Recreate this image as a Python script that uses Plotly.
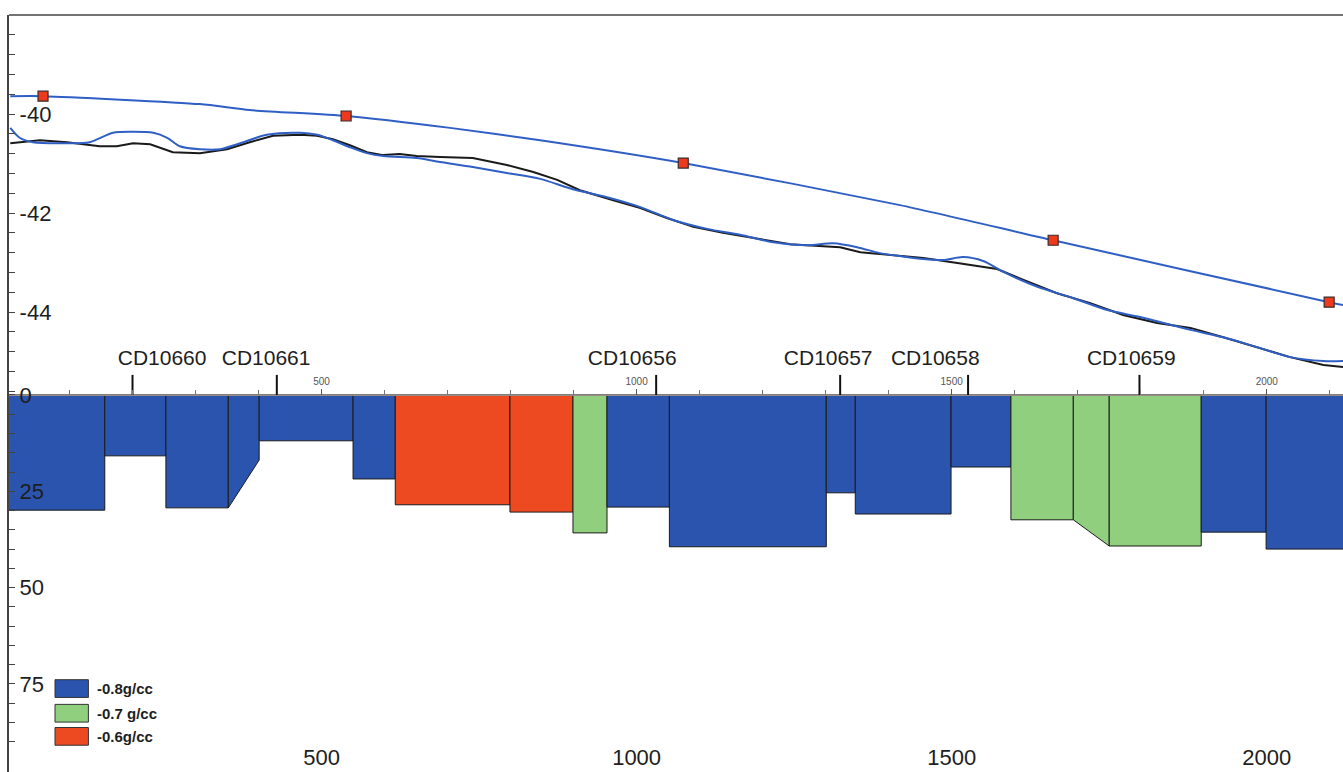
import numpy as np
import plotly.graph_objects as go

# ---------------- DATA ----------------
# observed topography (black, rugged)
obs_x = [6, 53, 96, 148, 175, 201, 228, 264, 307, 350, 386, 423, 466, 493, 518, 545, 572, 598,
         624, 651, 688, 740, 794, 836, 874, 910, 963, 1006, 1048, 1090, 1137, 1191, 1244, 1296,
         1323, 1355, 1402, 1455, 1509, 1572, 1614, 1667, 1720, 1772, 1826, 1879, 1931, 1985,
         2037, 2090, 2121]
obs_elev = [-40.59, -40.53, -40.57, -40.65, -40.65, -40.59, -40.61, -40.77, -40.79, -40.71,
            -40.57, -40.44, -40.42, -40.44, -40.51, -40.63, -40.77, -40.83, -40.81, -40.85,
            -40.87, -40.89, -41.03, -41.17, -41.33, -41.54, -41.74, -41.90, -42.10, -42.28,
            -42.40, -42.51, -42.63, -42.67, -42.69, -42.79, -42.85, -42.91, -43.01, -43.13,
            -43.35, -43.62, -43.82, -44.06, -44.22, -44.32, -44.51, -44.71, -44.91, -45.07,
            -45.11]

# modelled response (blue, smooth)
calc_x = [6, 21, 42, 96, 132, 169, 201, 233, 255, 275, 307, 339, 371, 413, 466, 493, 518, 545,
          572, 598, 651, 688, 740, 794, 847, 899, 953, 1006, 1058, 1112, 1164, 1217, 1271, 1312,
          1350, 1386, 1418, 1455, 1486, 1518, 1550, 1582, 1636, 1693, 1747, 1799, 1879, 1931,
          1985, 2037, 2090, 2121]
calc_elev = [-40.28, -40.48, -40.57, -40.59, -40.57, -40.38, -40.36, -40.38, -40.48, -40.65,
             -40.71, -40.71, -40.59, -40.42, -40.38, -40.42, -40.53, -40.67, -40.79, -40.85,
             -40.89, -40.97, -41.07, -41.19, -41.31, -41.52, -41.68, -41.88, -42.14, -42.32,
             -42.44, -42.59, -42.65, -42.61, -42.69, -42.81, -42.87, -42.93, -42.95, -42.89,
             -42.97, -43.19, -43.49, -43.72, -43.96, -44.10, -44.36, -44.51, -44.71, -44.91,
             -44.99, -44.99]

# regional trend (upper blue line) and its control points (red squares)
trend_x = [6, 58, 307, 386, 539, 704, 847, 1074, 1418, 1661, 2099, 2122]
trend_elev = [-39.64, -39.64, -39.80, -39.92, -40.04, -40.28, -40.53, -40.99, -41.84, -42.55,
              -43.80, -43.86]
ctrl_x = [58, 539, 1074, 1661, 2099]
ctrl_elev = [-39.64, -40.04, -40.99, -42.55, -43.80]

# density blocks: left/right x, depth at left/right bottom, density contrast
block_left = [0, 156, 253, 352, 401, 550, 617, 799, 899, 953, 1052, 1301, 1347, 1499, 1594,
              1693, 1750, 1896, 1999]
block_right = [156, 253, 352, 401, 550, 617, 799, 899, 953, 1052, 1301, 1347, 1499, 1594, 1693,
               1750, 1896, 1999, 2150]
block_depth_left = [29.9, 15.8, 29.3, 29.3, 11.9, 21.8, 28.5, 30.4, 35.8, 29.1, 39.4, 25.4,
                    30.9, 18.7, 32.4, 32.4, 39.2, 35.6, 40.0]
block_depth_right = [29.9, 15.8, 29.3, 16.9, 11.9, 21.8, 28.5, 30.4, 35.8, 29.1, 39.4, 25.4,
                     30.9, 18.7, 32.4, 39.2, 39.2, 35.6, 40.0]
block_density = [-0.8, -0.8, -0.8, -0.8, -0.8, -0.8, -0.6, -0.6, -0.7, -0.8, -0.8, -0.8,
                 -0.8, -0.8, -0.7, -0.7, -0.7, -0.8, -0.8]

# wells
well_names = ["CD10660", "CD10661", "CD10656", "CD10657", "CD10658", "CD10659"]
well_x = [200, 429, 1031, 1323, 1526, 1798]
well_label_x = [247, 412, 993, 1304, 1474, 1785]

# legend
legend_density = [-0.8, -0.7, -0.6]
legend_labels = ["-0.8g/cc", "-0.7 g/cc", "-0.6g/cc"]

# tick labels
x_tick_labels = [500, 1000, 1500, 2000]
elev_tick_labels = [-40, -42, -44]
depth_tick_labels = [0, 25, 50, 75]

# ---------------- STYLE ----------------
COLORS = {-0.8: "#2a54ae", -0.7: "#8fcf7e", -0.6: "#ee4a22"}
FONT = "Arial, Liberation Sans, Helvetica, sans-serif"
TEXT = "#1e1e1e"

fig = go.Figure()

# density blocks (depth axis y2)
for xl, xr, dl, dr, rho in zip(block_left, block_right, block_depth_left,
                               block_depth_right, block_density):
    fig.add_trace(go.Scatter(
        x=[xl, xr, xr, xl, xl], y=[0, 0, dr, dl, 0],
        mode="lines", fill="toself", fillcolor=COLORS[rho],
        line=dict(color="#1b1b1b", width=1),
        xaxis="x", yaxis="y2", showlegend=False, hoverinfo="skip"))

# wells (on the inner distance axis x2)
wx, wy = [], []
for x in well_x:
    wx += [x, x, None]
    wy += [-5.2, 0, None]
fig.add_trace(go.Scatter(x=wx, y=wy, mode="lines", line=dict(color="#111", width=2),
                         xaxis="x2", yaxis="y2", showlegend=False, hoverinfo="skip"))
fig.add_trace(go.Scatter(x=well_label_x, y=[-9.2] * len(well_names), mode="text",
                         text=well_names, textfont=dict(family=FONT, size=21, color=TEXT),
                         xaxis="x2", yaxis="y2", showlegend=False, hoverinfo="skip"))

# curves (elevation axis y)
fig.add_trace(go.Scatter(x=obs_x, y=obs_elev, mode="lines",
                         line=dict(color="#1a1a1a", width=2),
                         xaxis="x", yaxis="y", showlegend=False))
fig.add_trace(go.Scatter(x=calc_x, y=calc_elev, mode="lines",
                         line=dict(color="#2f5fc4", width=2, shape="spline", smoothing=0.8),
                         xaxis="x", yaxis="y", showlegend=False))
fig.add_trace(go.Scatter(x=trend_x, y=trend_elev, mode="lines",
                         line=dict(color="#2f5fc4", width=2, shape="spline", smoothing=0.6),
                         xaxis="x", yaxis="y", showlegend=False))
fig.add_trace(go.Scatter(x=ctrl_x, y=ctrl_elev, mode="markers",
                         marker=dict(symbol="square", size=10, color="#ee3a1c",
                                     line=dict(color="#3a2a2a", width=1.2)),
                         xaxis="x", yaxis="y", showlegend=False))

# legend (keys drawn in axis coordinates)
shapes = []
annotations = []
key_y = [76.2, 82.6, 88.6]
for rho, lab, yk in zip(legend_density, legend_labels, key_y):
    shapes.append(dict(type="rect", xref="x", yref="y2", x0=77, x1=130, y0=yk - 2.3,
                       y1=yk + 2.3, fillcolor=COLORS[rho], line=dict(color="#333", width=1)))
    annotations.append(dict(xref="x", yref="y2", x=140, y=yk, text=lab, showarrow=False,
                            xanchor="left", yanchor="middle",
                            font=dict(family=FONT, size=15, color=TEXT, weight="bold")))

# top border
shapes.append(dict(type="line", xref="paper", yref="paper", x0=0, x1=1, y0=1, y1=1,
                   line=dict(color="#444", width=1.5)))

elev_ticks = [round(v, 1) for v in np.arange(-38.4, -45.61, -0.4)]
elev_text = [str(int(v)) if v in elev_tick_labels else "" for v in elev_ticks]
depth_ticks = list(range(0, 96, 5))
depth_text = [str(v) if v in depth_tick_labels else "" for v in depth_ticks]

fig.update_layout(
    width=1343, height=772, autosize=False,
    margin=dict(l=9, r=0, t=15, b=0),
    paper_bgcolor="white", plot_bgcolor="white",
    font=dict(family=FONT, color=TEXT),
    showlegend=False,
    shapes=shapes, annotations=annotations,
    xaxis=dict(range=[4, 2121], tickmode="array", tickvals=x_tick_labels,
               ticktext=[str(v) for v in x_tick_labels], ticks="",
               ticklabelposition="inside", tickfont=dict(size=22, color=TEXT),
               showgrid=False, zeroline=False, showline=False, anchor="y"),
    xaxis2=dict(range=[4, 2121], overlaying="x", anchor="free", position=0.498, side="top",
                tickmode="linear", tick0=0, dtick=500, ticks="outside", ticklen=6,
                tickcolor="#555", tickwidth=1, tickfont=dict(size=10, color="#555"),
                minor=dict(dtick=100, tick0=0, ticks="outside", ticklen=5, tickcolor="#777"),
                showgrid=False, zeroline=False, showline=True, linecolor="#9c8c84",
                linewidth=1),
    yaxis=dict(range=[-53.29, -38.0], tickmode="array", tickvals=elev_ticks,
               ticktext=elev_text, ticks="inside", ticklen=6, tickcolor="#444",
               ticklabelposition="inside", ticklabelstandoff=6,
               tickfont=dict(size=22, color=TEXT),
               showgrid=False, zeroline=False, showline=True, linecolor="#444",
               linewidth=2),
    yaxis2=dict(range=[97.85, -98.6], overlaying="y", side="left", tickmode="array",
                tickvals=depth_ticks, ticktext=depth_text, ticks="inside", ticklen=6,
                tickcolor="#444", ticklabelposition="inside", ticklabelstandoff=6,
                tickfont=dict(size=22, color=TEXT), showgrid=False, zeroline=False,
                showline=False),
)

fig.write_html("out.html", config={"displayModeBar": False},
               post_script="document.body.style.margin='0';")
